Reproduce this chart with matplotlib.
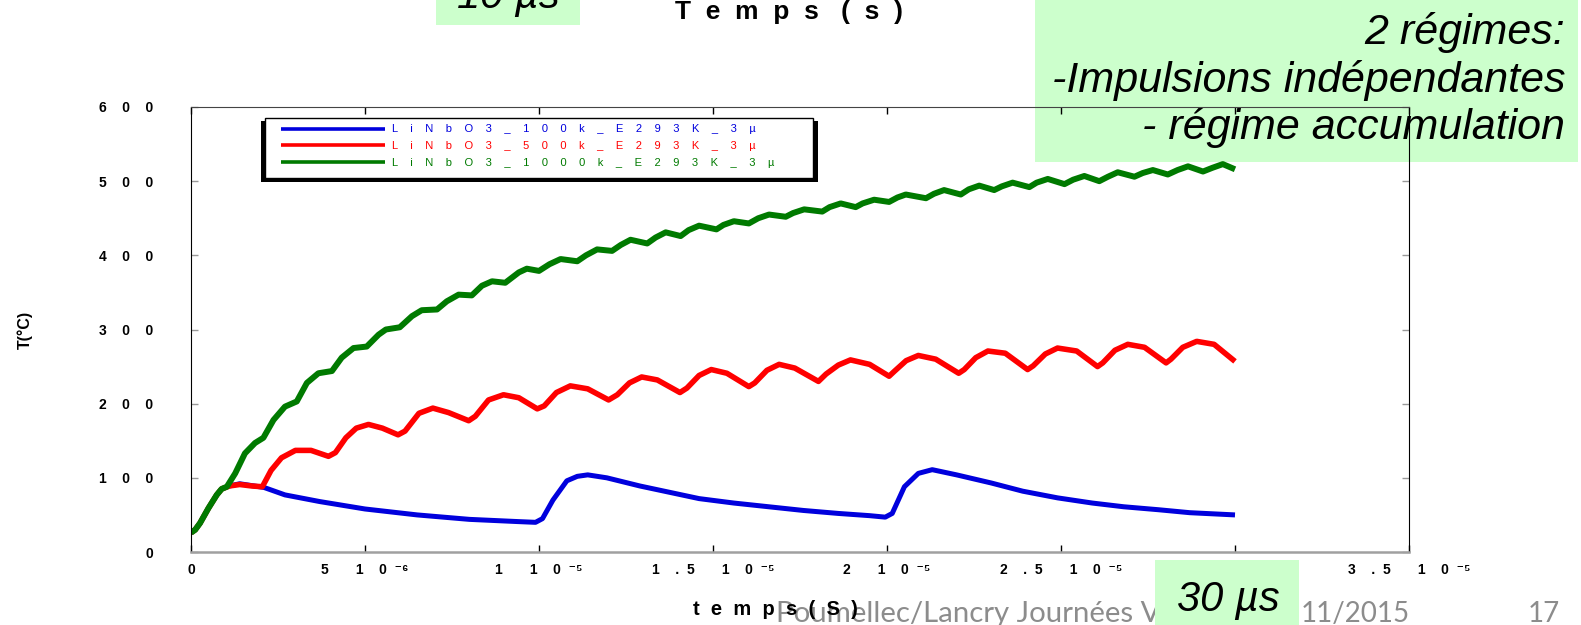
import numpy as np
import matplotlib.pyplot as plt
import matplotlib.patches as mpatches

# temps en microsecondes, température en °C
t_100k = [0, 0.12, 0.26, 0.5, 0.74, 0.88, 1.1, 1.4, 2.1, 2.7, 3.7, 5.0, 6.5, 8.0, 9.4, 9.9,
          10.1, 10.4, 10.8, 11.1, 11.4, 11.95, 12.9, 13.9, 14.6, 15.6, 16.6, 17.6, 18.6, 19.5, 19.95,
          20.15, 20.5, 20.9, 21.3, 22.0, 23.0, 23.9, 24.9, 25.9, 26.8, 27.8, 28.7, 30.0]
T_100k = [26, 30, 39, 59, 77, 85, 89, 92, 87, 77, 68, 58, 50, 44, 41, 40,
          45, 70, 96, 102, 104, 100, 89, 79, 72, 66, 61, 56, 52, 49, 47,
          52, 88, 106, 111, 104, 93, 82, 73, 66, 61, 57, 53, 50]

t_500k = [0, 0.12, 0.26, 0.5, 0.74, 0.88, 1.1, 1.4, 1.75, 2.05, 2.3, 2.6, 3.0, 3.45, 3.95,
          4.15, 4.45, 4.75, 5.1, 5.5, 5.95, 6.15, 6.55, 6.95, 7.4, 7.98, 8.17, 8.55, 8.98, 9.42,
          9.95, 10.15, 10.5, 10.9, 11.4, 12.0, 12.25, 12.6, 12.95, 13.4, 14.05, 14.25, 14.6, 14.95,
          15.4, 16.03, 16.2, 16.55, 16.9, 17.35, 18.03, 18.25, 18.6, 18.95, 19.5, 20.06, 20.22,
          20.55, 20.9, 21.4, 22.06, 22.22, 22.55, 22.9, 23.4, 24.04, 24.2, 24.55, 24.9, 25.45,
          26.05, 26.2, 26.55, 26.92, 27.4, 28.02, 28.16, 28.5, 28.9, 29.4, 30.0]
T_500k = [26, 30, 39, 59, 77, 85, 89, 91, 89, 88, 110, 127, 137, 137, 129,
          134, 154, 167, 172, 167, 158, 163, 187, 194, 188, 177, 183, 205, 212, 208,
          193, 197, 215, 224, 220, 205, 212, 228, 236, 232, 215, 221, 238, 246,
          241, 223, 228, 245, 253, 248, 230, 240, 252, 259, 253, 237, 244,
          258, 265, 260, 241, 246, 262, 271, 268, 246, 251, 267, 275, 271,
          250, 255, 272, 280, 276, 255, 260, 276, 284, 280, 257]

t_1000k = [0, 0.12, 0.26, 0.5, 0.74, 0.88, 1.03, 1.27, 1.55, 1.84, 2.08, 2.37, 2.7, 3.04, 3.33,
           3.66, 4.05, 4.33, 4.67, 5.05, 5.39, 5.6, 6.0, 6.35, 6.63, 7.07, 7.35, 7.69, 8.07, 8.36,
           8.65, 9.03, 9.42, 9.65, 10.0, 10.3, 10.62, 11.1, 11.35, 11.67, 12.1, 12.35, 12.63, 13.11,
           13.35, 13.64, 14.07, 14.3, 14.6, 15.1, 15.3, 15.6, 16.03, 16.3, 16.61, 17.09, 17.3, 17.62,
           18.14, 18.35, 18.67, 19.1, 19.3, 19.63, 20.06, 20.3, 20.54, 21.12, 21.35, 21.64, 22.12,
           22.35, 22.65, 23.08, 23.3, 23.61, 24.09, 24.3, 24.62, 25.1, 25.35, 25.67, 26.1, 26.35,
           26.63, 27.11, 27.35, 27.64, 28.07, 28.35, 28.65, 29.08, 29.35, 29.65, 30.0]
T_1000k = [26, 30, 39, 59, 77, 85, 88, 106, 133, 147, 154, 178, 196, 203, 228,
           241, 244, 262, 275, 277, 293, 300, 303, 318, 326, 327, 338, 347, 346, 359,
           365, 363, 377, 382, 379, 388, 395, 392, 400, 408, 406, 414, 421, 416,
           424, 431, 426, 434, 440, 435, 441, 446, 443, 450, 455, 452, 457, 462,
           459, 465, 470, 465, 470, 475, 472, 478, 482, 477, 483, 488, 482,
           489, 494, 488, 493, 498, 492, 498, 503, 496, 502, 507, 500, 506,
           512, 506, 511, 515, 509, 515, 520, 513, 518, 523, 516]

series_names = ["LiNbO3_100k_E293K_3µ", "LiNbO3_500k_E293K_3µ", "LiNbO3_1000k_E293K_3µ"]
series_colors = ["#0000dd", "#ff0000", "#007a00"]

y_ticks = [0, 100, 200, 300, 400, 500, 600]
x_ticks_us = [0, 5, 10, 15, 20, 25, 30, 35]
x_tick_labels = ["0",
                 "5       1    0  ⁻⁶",
                 "1       1    0  ⁻⁵",
                 "1    .  5       1    0  ⁻⁵",
                 "2       1    0  ⁻⁵",
                 "2    .  5       1    0  ⁻⁵",
                 "3       1    0  ⁻⁵",
                 "3    .  5       1    0  ⁻⁵"]


def spaced(s, n):
    return (" " * n).join(s)


W, H = 1581, 625
fig = plt.figure(figsize=(W / 100, H / 100), dpi=100)

# pixel -> fraction de figure
def fx(px):
    return px / W

def fy(py):
    return 1 - py / H

ax = fig.add_axes([fx(191), fy(552), (1409 - 191) / W, (552 - 107) / H])
ax.set_zorder(2)
ax.set_facecolor("none")

def ax_x(px):
    return (px - 191) / (1409 - 191)

def ax_y(py):
    return (552 - py) / (552 - 107)

lw = [3.6, 4.0, 4.3]
for t, T, name, c, w in zip([t_100k, t_500k, t_1000k], [T_100k, T_500k, T_1000k],
                            series_names, series_colors, lw):
    ax.plot(np.array(t) * 1e-6, T, color=c, lw=w, solid_capstyle="butt",
            solid_joinstyle="round", label=spaced(name, 4))

ax.set_xlim(0, 3.5e-5)
ax.set_ylim(0, 600)
ax.set_xticks(np.array(x_ticks_us) * 1e-6)
ax.set_xticklabels(x_tick_labels, fontsize=10, fontweight="bold",
                   fontfamily=["Liberation Sans", "DejaVu Sans"])
ax.set_yticks(y_ticks)
ax.set_yticklabels([spaced(str(v), 4) for v in y_ticks], fontsize=10, fontweight="bold",
                   fontfamily=["Liberation Sans", "DejaVu Sans"])
ax.tick_params(direction="in", length=5, width=1, top=True, right=True)
ax.tick_params(axis="x", pad=8, color="black")
ax.tick_params(axis="y", pad=27, color="#999999")

ax.spines["left"].set_color("black")
ax.spines["right"].set_color("black")
ax.spines["top"].set_color("#444444")
ax.spines["bottom"].set_color("#a0a0a0")
ax.spines["bottom"].set_linewidth(1.8)

# cadre de légende avec ombre
ax.add_patch(mpatches.Rectangle((ax_x(261), ax_y(182)), ax_x(818) - ax_x(261), ax_y(121) - ax_y(182),
                                transform=ax.transAxes, fc="black", ec="none", zorder=4.9))
ax.add_patch(mpatches.Rectangle((ax_x(265), ax_y(178)), ax_x(813) - ax_x(265), ax_y(118) - ax_y(178),
                                transform=ax.transAxes, fc="white", ec="black", lw=1, zorder=5))
leg = ax.legend(loc="upper left", bbox_to_anchor=(ax_x(281), ax_y(124.5)), frameon=False,
                borderpad=0, borderaxespad=0, handlelength=9.4, handletextpad=0.6,
                labelspacing=0.6, prop={"family": "Liberation Sans", "size": 8})
leg.set_zorder(6)
for txt, line, c in zip(leg.get_texts(), leg.get_lines(), series_colors):
    txt.set_color(c)
    line.set_linewidth(2.6)

# étiquettes des axes
fig.text(fx(25), fy(330), "T(°C)", rotation=90, ha="center", va="center",
         fontsize=11.5, fontweight="bold", family="Liberation Sans", zorder=3)
fig.text(fx(775), fy(615), spaced("temps", 2) + "  " + spaced("(S)", 2), ha="center", va="baseline",
         fontsize=14.5, fontweight="bold", family="Liberation Sans", zorder=3)
fig.text(fx(789), fy(18.5), spaced("Temps", 2) + "   " + spaced("(s)", 2), ha="center", va="baseline",
         fontsize=19, fontweight="bold", family="Liberation Sans", zorder=3)

# pied de page
fig.text(fx(776), fy(622), "Poumellec/Lancry Journées Verre", ha="left", va="baseline",
         fontsize=21.2, color="#8c8c8c", family="Lato", zorder=1)
fig.text(fx(1301), fy(622), "11/2015", ha="left", va="baseline",
         fontsize=20, color="#8c8c8c", family="Lato", zorder=1)
fig.text(fx(1528), fy(622), "17", ha="left", va="baseline",
         fontsize=20, color="#8c8c8c", family="Lato", zorder=1)

green = "#ccffcc"
# encadré "2 régimes"
fig.add_artist(mpatches.Rectangle((fx(1035), fy(162)), (1578 - 1035) / W, 162 / H,
                                  transform=fig.transFigure, fc=green, ec="none", zorder=1))
for line_txt, base in zip(["2 régimes:", "-Impulsions indépendantes", "- régime accumulation"],
                          [44, 92, 139]):
    fig.text(fx(1565), fy(base), line_txt, ha="right", va="baseline", fontsize=31,
             fontstyle="italic", family="Liberation Sans", zorder=1.5)

# encadrés 10 µs / 30 µs
fig.add_artist(mpatches.Rectangle((fx(436), fy(25)), (580 - 436) / W, 25 / H,
                                  transform=fig.transFigure, fc=green, ec="none", zorder=10))
fig.text(fx(508), fy(8), "10 µs", ha="center", va="baseline", fontsize=30,
         fontstyle="italic", family="Liberation Sans", zorder=11)
fig.add_artist(mpatches.Rectangle((fx(1155), fy(625)), (1299 - 1155) / W, 65 / H,
                                  transform=fig.transFigure, fc=green, ec="none", zorder=10))
fig.text(fx(1228), fy(611), "30 µs", ha="center", va="baseline", fontsize=30,
         fontstyle="italic", family="Liberation Sans", zorder=11)

fig.savefig("out.png", dpi=100)
